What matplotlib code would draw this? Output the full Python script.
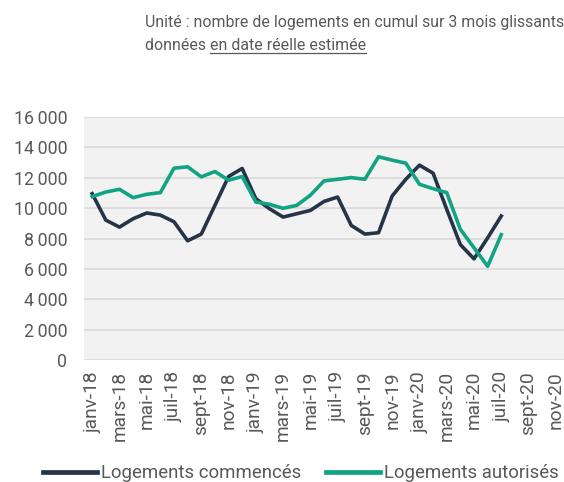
import matplotlib.pyplot as plt
import numpy as np

# --- données ---
mois = ['janv', 'févr', 'mars', 'avr', 'mai', 'juin', 'juil', 'août',
        'sept', 'oct', 'nov', 'déc']
annees = ['18', '19', '20']
categories = [f"{m}-{a}" for a in annees for m in mois][:35]  # janv-18 .. nov-20

commences = [10950, 9210, 8750, 9300, 9680, 9540, 9100, 7850, 8290, 10180,
             12080, 12610, 10620, 9960, 9410, 9630, 9850, 10440, 10730, 8860,
             8290, 8380, 10800, 11900, 12830, 12300, 9920, 7600, 6660, 8040,
             9480]
autorises = [10760, 11060, 11240, 10690, 10910, 11020, 12630, 12720, 12060, 12410,
             11840, 12080, 10400, 10250, 9990, 10180, 10850, 11790, 11900, 12010,
             11900, 13380, 13160, 12960, 11570, 11280, 11020, 8600, 7390, 6170,
             8250]

y_ticks = np.arange(0, 16001, 2000)

COL_DARK = '#263447'
COL_GREEN = '#12a385'
COL_TEXT = '#595959'

plt.rcParams['font.family'] = ['Roboto', 'DejaVu Sans']

fig = plt.figure(figsize=(5.64, 4.82), dpi=100)
ax = fig.add_axes([84 / 564, 1 - 360 / 482, 480 / 564, 243 / 482])
ax.set_facecolor('#f2f2f2')

x = np.arange(len(commences))
ax.plot(x, commences, color=COL_DARK, lw=2.6, label='Logements commencés')
ax.plot(x, autorises, color=COL_GREEN, lw=2.6, label='Logements autorisés')

ax.set_xlim(-0.6, len(categories) - 0.4)
ax.set_ylim(0, 16000)
ax.set_yticks(y_ticks)
ax.set_yticklabels([f"{v:,}".replace(',', '\u2009') for v in y_ticks])
ax.set_xticks(np.arange(0, len(categories), 2))
ax.set_xticklabels(categories[::2], rotation=90)

ax.grid(axis='y', color='#d9d9d9', lw=1.2)
ax.set_axisbelow(True)
for s in ax.spines.values():
    s.set_visible(False)
ax.tick_params(axis='both', length=0, colors=COL_TEXT)
ax.tick_params(axis='y', pad=12, labelsize=12.8)
ax.tick_params(axis='x', pad=8, labelsize=13.8)

# --- titre (2 lignes, souligné) ---
TITLE_FS = 11.4
fig.text(145 / 564, 1 - 22 / 482, 'Unité : nombre de logements en cumul sur 3 mois glissants',
         fontsize=TITLE_FS, color=COL_TEXT, va='center', ha='left')
t1 = fig.text(145 / 564, 1 - 46 / 482, 'données ', fontsize=TITLE_FS, color=COL_TEXT,
              va='center', ha='left')
fig.canvas.draw()
bb = t1.get_window_extent()
t2 = fig.text(bb.x1 / 564, 1 - 46 / 482, 'en date réelle estimée', fontsize=TITLE_FS,
              color=COL_TEXT, va='center', ha='left')
fig.canvas.draw()
bb2 = t2.get_window_extent()
y_line = (bb2.y0 + 1) / 482
fig.add_artist(plt.Line2D([bb2.x0 / 564, bb2.x1 / 564], [y_line, y_line],
                          color=COL_TEXT, lw=0.9))

leg = fig.legend(loc='lower center', bbox_to_anchor=(0.533, -0.035), ncol=2, frameon=False,
                 fontsize=13.4, handlelength=2.9, columnspacing=1.35, handletextpad=0.2,
                 labelcolor=COL_TEXT)
for h in leg.get_lines():
    h.set_linewidth(3.4)

fig.savefig('out.png', dpi=100)
